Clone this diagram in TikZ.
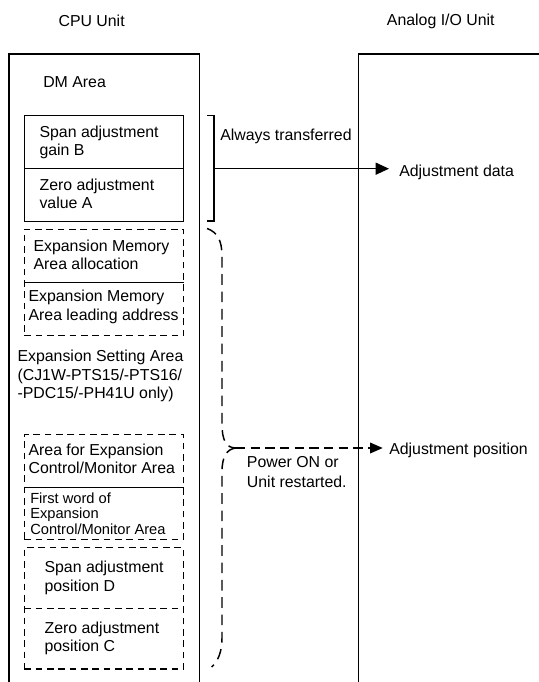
\documentclass[tikz,border=0pt]{standalone}
\usepackage{fontspec}
\setmainfont{Liberation Sans}
\usetikzlibrary{arrows.meta,fit}
\begin{document}
\begin{tikzpicture}[x=0.75pt,y=-0.75pt,
  txt/.style={inner sep=0pt, align=left, anchor=north west, font=\fontsize{11.9}{13.7}\selectfont},
  stxt/.style={inner sep=0pt, align=left, anchor=north west, font=\fontsize{11}{11.6}\selectfont},
  ltxt/.style={inner sep=0pt, anchor=base west, font=\fontsize{11.9}{13.7}\selectfont},
  outer/.style={line width=1.25pt},
  solidbox/.style={draw, line width=0.9pt, inner sep=0pt},
  dashbox/.style={draw, line width=0.9pt, inner sep=0pt, dash pattern=on 5pt off 3.5pt},
  thinline/.style={line width=0.6pt},
  dashline/.style={line width=0.9pt, dash pattern=on 5pt off 3.5pt},
  bracestyle/.style={line width=1.1pt, dash pattern=on 8pt off 5pt},
  arr/.style={line width=1.1pt, -{Triangle[length=10pt,width=9pt]}},
  darr/.style={line width=1.1pt, dash pattern=on 7pt off 4pt, -{Triangle[length=9.5pt,width=8pt]}}
]
\useasboundingbox (0,0) rectangle (539,682);

% headings
\node[ltxt] (cpu) at (58.3,26) {CPU Unit};
\node[ltxt] (aio) at (386.7,25) {Analog I/O Unit};

% unit frames
\draw[outer] (9,682) -- (9,54) -- (199.5,54) -- (199.5,682);
\draw[outer] (358.5,682) -- (358.5,54) -- (539,54);

\node[ltxt] (dm) at (43,87) {DM Area};

% solid box
\node[solidbox, fit={(24.3,115.7) (183.7,221.7)}] (boxAB) {};
\draw[line width=0.9pt] (24.3,168.7) -- (183.7,168.7);
\node[txt] (tB) at (39.3,125.3) {Span adjustment\\gain B};
\node[txt] (tA) at (39.3,178.3) {Zero adjustment\\value A};

% expansion memory
\node[dashbox, fit={(24.3,229.3) (183.7,335.7)}] (boxEM) {};
\draw[thinline] (24.3,282.7) -- (183.7,282.7);
\node[txt] (tEM1) at (33.3,239.3) {Expansion Memory\\Area allocation};
\node[txt] (tEM2) at (28.3,290) {Expansion Memory\\Area leading address};

\node[txt] (tES) at (17.3,350) {Expansion Setting Area\\(CJ1W-PTS15/-PTS16/\\-PDC15/-PH41U only)};

% expansion control
\node[dashbox, fit={(24.3,434.3) (183.7,539.3)}] (boxEC) {};
\draw[thinline] (24.3,487.3) -- (183.7,487.3);
\node[txt] (tEC1) at (28.3,443.3) {Area for Expansion\\Control/Monitor Area};
\node[stxt] (tEC2) at (30,492.5) {First word of\\Expansion\\Control/Monitor Area};

% adjustment positions
\node[dashbox, fit={(24.3,547.7) (183.7,669)}] (boxDC) {};
\draw[dashline] (24.3,608.3) -- (183.7,608.3);
\node[txt] (tD) at (44.3,561) {Span adjustment\\position D};
\node[txt] (tC) at (44.3,621.6) {Zero adjustment\\position C};

% bracket and arrow
\draw[line width=1.1pt] (207,115.7) -- (214,115.7) -- (214,221) -- (207,221);
\coordinate (bm) at (214,168.7);
\node[ltxt] (always) at (220,140) {Always transferred};
\node[ltxt] (adjdata) at (399,176.7) {Adjustment data};
\draw[arr, shorten >=7.5pt] (bm) -- (bm -| adjdata.west);

% dashed brace and arrow
\coordinate (tip) at (236,448);
\draw[bracestyle] (207,228.5) .. controls (217,232) and (222,240) .. (222,256) -- (222,424) .. controls (222,440) and (226,448) .. (tip);
\draw[bracestyle] (tip) .. controls (227,449) and (222,456) .. (222,472) -- (222,638) .. controls (222,652) and (218,661) .. (211.7,667);
\node[ltxt] (adjpos) at (389,454) {Adjustment position};
\draw[darr, shorten >=4.7pt] (tip) -- (tip -| adjpos.west);
\node[txt, font=\fontsize{11.9}{14.8}\selectfont] (power) at (246.7,456.6) {Power ON or\\Unit restarted.};
\end{tikzpicture}
\end{document}
